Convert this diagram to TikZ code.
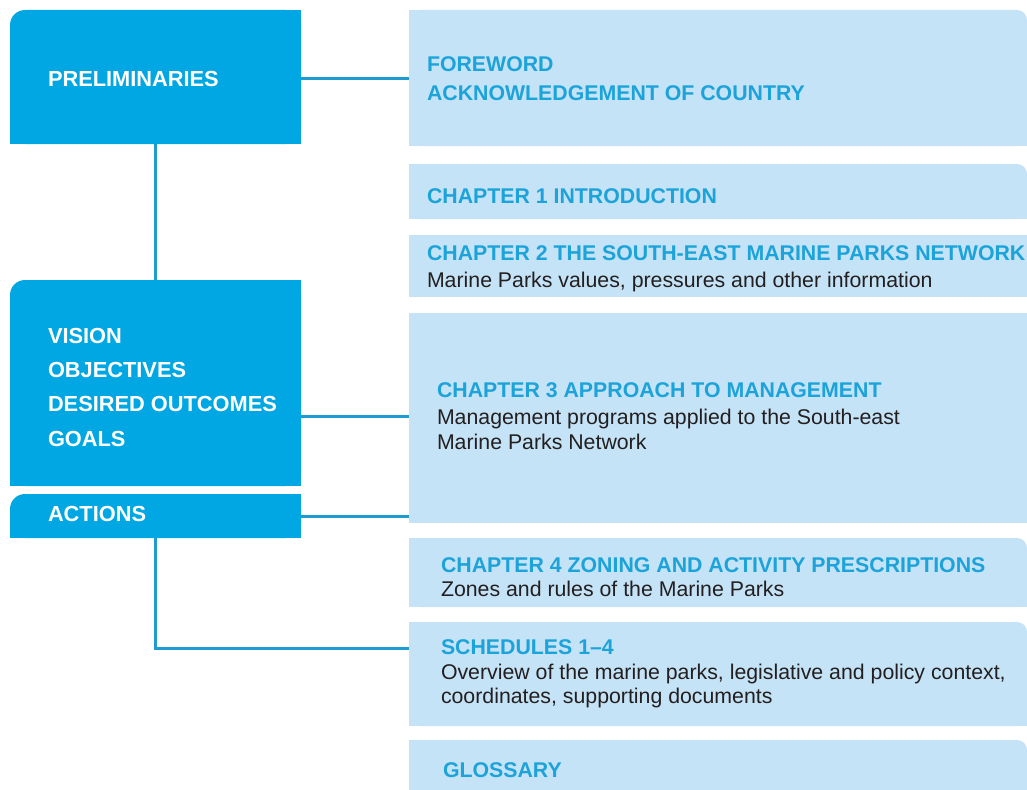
\documentclass[tikz,border=0pt]{standalone}
\usepackage{fontspec}
\setmainfont{Liberation Sans}
\usetikzlibrary{calc}
\definecolor{darkblue}{RGB}{0,167,226}
\definecolor{lightblue}{RGB}{197,227,246}
\definecolor{headblue}{RGB}{27,163,218}
\definecolor{linkblue}{RGB}{30,155,208}
\definecolor{bodytext}{RGB}{35,31,32}
\tikzset{
  leftbox/.style={rectangle, inner sep=0pt, outer sep=0pt, anchor=north west, minimum width=291pt, fill=darkblue, rounded corners=15pt},
  rightbox/.style={rectangle, inner sep=0pt, outer sep=0pt, anchor=north west, minimum width=618pt, fill=lightblue},
  roundtr/.style={rounded corners=10pt},
  txt/.style={anchor=base west, inner sep=0pt, outer sep=0pt, font=\fontsize{21.3}{25}\selectfont},
  lefttxt/.style={txt, text=white, font=\fontsize{21.8}{25}\selectfont\bfseries},
  headtxt/.style={txt, text=headblue, font=\fontsize{21.3}{25}\selectfont\bfseries},
  bodytxt/.style={txt, text=bodytext},
  link/.style={draw=linkblue, line width=3pt}
}
\begin{document}
\begin{tikzpicture}[x=1pt,y=-1pt]
\useasboundingbox (0,0) rectangle (1027,789);
% left boxes
\node[leftbox, minimum height=134pt] (pre) at (10,10) {};
\node[leftbox, minimum height=206pt] (vis) at (10,280) {};
\node[leftbox, minimum height=44pt] (act) at (10,494) {};
\foreach \n in {pre,vis,act}{
  \fill[darkblue] ($(\n.north west)+(15,0)$) rectangle (\n.south east);
  \fill[darkblue] ($(\n.north west)+(0,15)$) rectangle (\n.south east);
}
% right boxes
\node[rightbox, roundtr, minimum height=136pt] (fore) at (409,10) {};
\node[rightbox, roundtr, minimum height=55pt] (ch1) at (409,164) {};
\node[rightbox, minimum height=62pt] (ch2) at (409,235) {};
\node[rightbox, minimum height=210pt] (ch3) at (409,313) {};
\node[rightbox, roundtr, minimum height=69pt] (ch4) at (409,538) {};
\node[rightbox, roundtr, minimum height=104pt] (sch) at (409,622) {};
\node[rightbox, roundtr, minimum height=60pt] (glo) at (409,740) {};
\foreach \n in {fore,ch1,ch4,sch,glo}{
  \fill[lightblue] ($(\n.north east)+(-10,0)$) rectangle (\n.south west);
  \fill[lightblue] ($(\n.north east)+(0,10)$) rectangle (\n.south west);
}
% connectors
\coordinate (preline) at ($(pre.north east)+(0,69)$);
\draw[link] (preline) -- (preline -| fore.west);
\draw[link] (pre.south) -- (vis.north);
\coordinate (visline) at ($(vis.north east)+(0,136)$);
\draw[link] (visline) -- (visline -| ch3.west);
\draw[link] (act.east) -- (act.east -| ch3.west);
\coordinate (schline) at ($(sch.north west)+(0,26)$);
\draw[link] (act.south) |- (schline);
% left texts
\node[lefttxt] (tpre) at (48,87) {PRELIMINARIES};
\node[lefttxt] (tvis) at (48,343) {VISION};
\node[lefttxt] (tobj) at (48,377) {OBJECTIVES};
\node[lefttxt] (tdes) at (48,411) {DESIRED OUTCOMES};
\node[lefttxt] (tgoa) at (48,446) {GOALS};
\node[lefttxt] (tact) at (48,521) {ACTIONS};
% right texts
\node[headtxt] (tfore) at (427,72) {FOREWORD};
\node[headtxt] (tack) at (427,101) {ACKNOWLEDGEMENT OF COUNTRY};
\node[headtxt] (tch1) at (427,203) {CHAPTER 1 INTRODUCTION};
\node[headtxt] (tch2) at (427,260) {CHAPTER 2 THE SOUTH-EAST MARINE PARKS NETWORK};
\node[bodytxt] (sch2) at (427,287) {Marine Parks values, pressures and other information};
\node[headtxt] (tch3) at (437,397) {CHAPTER 3 APPROACH TO MANAGEMENT};
\node[bodytxt] (sch3a) at (437,424) {Management programs applied to the South-east};
\node[bodytxt] (sch3b) at (437,449) {Marine Parks Network};
\node[headtxt] (tch4) at (441,572) {CHAPTER 4 ZONING AND ACTIVITY PRESCRIPTIONS};
\node[bodytxt] (sch4) at (441,596) {Zones and rules of the Marine Parks};
\node[headtxt] (tsch) at (441,654) {SCHEDULES 1–4};
\node[bodytxt] (ssch1) at (441,679) {Overview of the marine parks, legislative and policy context,};
\node[bodytxt] (ssch2) at (441,703) {coordinates, supporting documents};
\node[headtxt] (tglo) at (443,777) {GLOSSARY};
\end{tikzpicture}
\end{document}
